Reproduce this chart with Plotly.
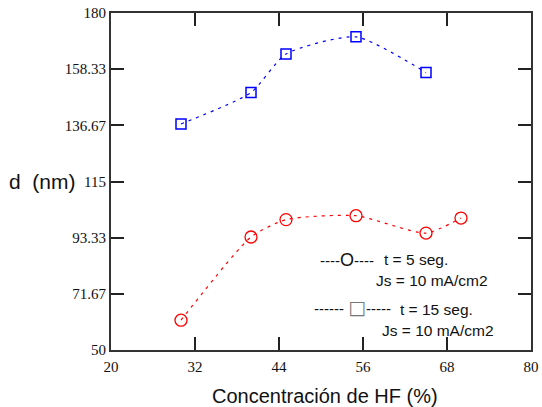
import plotly.graph_objects as go

# Data
x_15 = [30, 40, 45, 55, 65]
d_15 = [137.2, 149.3, 164.2, 170.8, 157.0]
x_5 = [30, 40, 45, 55, 65, 70]
d_5 = [61.5, 93.6, 100.3, 101.8, 95.1, 100.9]

y_tickvals = [50, 71.67, 93.33, 115, 136.67, 158.33, 180]
y_ticktext = ["50", "71.67", "93.33", "115", "136.67", "158.33", "180"]
x_tickvals = [20, 32, 44, 56, 68, 80]

fig = go.Figure()
fig.add_trace(go.Scatter(
    x=x_15, y=d_15, mode="lines+markers",
    line=dict(color="#0000ff", width=1.2, dash="3px,5px", shape="spline", smoothing=0.6),
    marker=dict(symbol="square-open", size=10, color="#0000ff", line=dict(width=1.5)),
    showlegend=False))
fig.add_trace(go.Scatter(
    x=x_5, y=d_5, mode="lines+markers",
    line=dict(color="#ff0000", width=1.2, dash="3px,5px", shape="spline", smoothing=0.6),
    marker=dict(symbol="circle-open", size=12, color="#ff0000", line=dict(width=1.3)),
    showlegend=False))

axis_common = dict(showline=True, linecolor="#333333", linewidth=2, mirror="ticks",
                   ticks="inside", ticklen=13, tickwidth=1.5, tickcolor="#222222",
                   showgrid=False, zeroline=False, automargin=False,
                   tickfont=dict(family="Liberation Serif", size=15, color="#111111"))

fig.update_xaxes(range=[20, 80], tickvals=x_tickvals, ticklabelstandoff=2, **axis_common)
fig.update_yaxes(range=[50, 180], tickvals=y_tickvals, ticktext=y_ticktext, **axis_common)

sans = "Liberation Sans"
ann = [
    dict(text="Concentración de HF (%)", x=325, y=397, size=20),
    dict(text="d  (nm)", x=42, y=182, size=21),
    dict(text="----<span style='font-size:18px'>O</span>----", x=347, y=260, size=15),
    dict(text="t = 5 seg.", x=416, y=260, size=15.5),
    dict(text="Js = 10 mA/cm2", x=432, y=281, size=15.5),
    dict(text="------ <span style='font-family:DejaVu Sans;font-size:19px;color:#777'>□</span>-----", x=352, y=307, size=15),
    dict(text="t = 15 seg.", x=436, y=310, size=15.5),
    dict(text="Js = 10 mA/cm2", x=438, y=331, size=15.5),
]
W, H = 542, 407
L, R, T, B = 111, 11, 13, 56.5
for a in ann:
    fig.add_annotation(text=a["text"], xref="paper", yref="paper",
                       x=(a["x"] - L) / (W - L - R), y=1 - (a["y"] - T) / (H - T - B),
                       showarrow=False, xanchor="center", yanchor="middle",
                       font=dict(family=sans, size=a["size"], color="#111111"))

fig.update_layout(width=W, height=H, margin=dict(l=L, r=R, t=T, b=B),
                  plot_bgcolor="white", paper_bgcolor="white")
fig.write_html("out.html")
